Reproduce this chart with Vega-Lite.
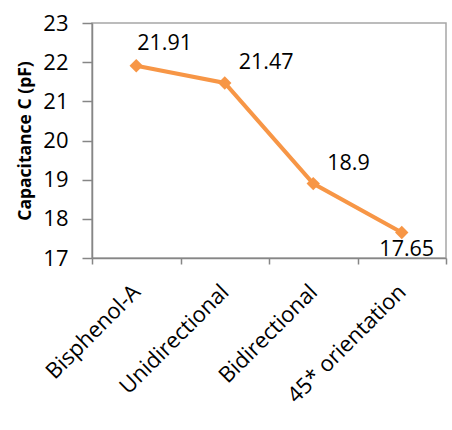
{
  "$schema": "https://vega.github.io/schema/vega-lite/v6.json",
  "width": 354,
  "height": 235,
  "autosize": {"type": "none"},
  "padding": {"left": 92, "top": 23, "right": 6, "bottom": 172},
  "background": "white",
  "config": {
    "font": "Open Sans",
    "view": {"stroke": "#a6a6a6", "strokeWidth": 1.5}
  },
  "data": {
    "values": [
      {"material": "Bisphenol-A", "capacitance": 21.91},
      {"material": "Unidirectional", "capacitance": 21.47},
      {"material": "Bidirectional", "capacitance": 18.9},
      {"material": "45* orientation", "capacitance": 17.65}
    ]
  },
  "encoding": {
    "x": {
      "field": "material",
      "type": "nominal",
      "sort": null,
      "scale": {"paddingInner": 0, "paddingOuter": 0},
      "axis": {
        "title": null,
        "labelAngle": -45,
        "labelAlign": "right",
        "labelBaseline": "middle",
        "labelFontSize": 22,
        "labelColor": "#000000",
        "labelPadding": 24,
        "tickBand": "extent",
        "tickSize": 6,
        "tickColor": "#868686",
        "tickWidth": 1.5,
        "domainColor": "#868686",
        "domainWidth": 1.5
      }
    },
    "y": {
      "field": "capacitance",
      "type": "quantitative",
      "scale": {"domain": [17, 23], "nice": false, "zero": false},
      "axis": {
        "title": "Capacitance C (pF)",
        "titleFontSize": 17.5,
        "titleFontWeight": "bold",
        "titleColor": "#000000",
        "titlePadding": 8,
        "values": [17, 18, 19, 20, 21, 22, 23],
        "grid": false,
        "tickSize": 10,
        "tickColor": "#868686",
        "tickWidth": 1.5,
        "domainColor": "#868686",
        "domainWidth": 1.5,
        "labelFontSize": 22,
        "labelColor": "#000000",
        "labelPadding": 14
      }
    }
  },
  "layer": [
    {
      "mark": {"type": "line", "color": "#F79646", "strokeWidth": 4}
    },
    {
      "mark": {"type": "point", "shape": "diamond", "filled": true, "size": 180, "color": "#F79646", "opacity": 1}
    },
    {
      "transform": [{"filter": "datum.material === 'Bisphenol-A'"}],
      "mark": {"type": "text", "align": "left", "baseline": "alphabetic", "dx": 1, "dy": -16, "fontSize": 21.5, "color": "#000000"},
      "encoding": {"text": {"field": "capacitance", "type": "quantitative"}}
    },
    {
      "transform": [{"filter": "datum.material === 'Unidirectional' || datum.material === 'Bidirectional'"}],
      "mark": {"type": "text", "align": "left", "baseline": "alphabetic", "dx": 14, "dy": -14, "fontSize": 21.5, "color": "#000000"},
      "encoding": {"text": {"field": "capacitance", "type": "quantitative"}}
    },
    {
      "transform": [{"filter": "datum.material === '45* orientation'"}],
      "mark": {"type": "text", "align": "center", "baseline": "alphabetic", "dx": 5, "dy": 23, "fontSize": 21.5, "color": "#000000"},
      "encoding": {"text": {"field": "capacitance", "type": "quantitative"}}
    }
  ]
}
